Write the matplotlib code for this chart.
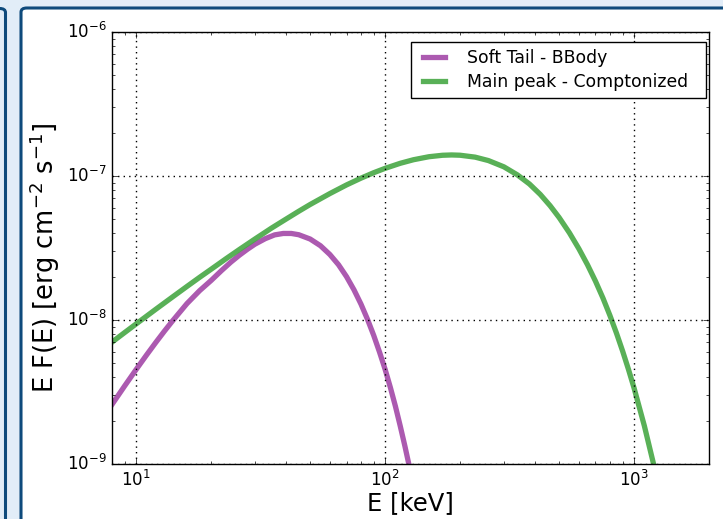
import matplotlib
matplotlib.use('Agg')
import matplotlib.pyplot as plt
from matplotlib.patches import FancyBboxPatch
import numpy as np

plt.style.use('classic')
plt.rcParams['font.family'] = ['DejaVu Sans']
plt.rcParams['mathtext.fontset'] = 'dejavusans'

# energies [keV] and E F(E)
E_bb = [8, 9, 10, 11, 12, 13, 14, 16, 18, 20, 22, 24, 26, 28, 30, 33, 36, 39, 42, 45, 50, 55, 60, 65,
        70, 75, 80, 85, 90, 95, 100, 105, 110, 115, 120, 125, 130]
F_bb = [2.59e-9, 3.49e-9, 4.53e-9, 5.70e-9, 6.99e-9, 8.38e-9, 9.85e-9, 1.30e-8, 1.60e-8, 1.88e-8,
        2.20e-8, 2.52e-8, 2.82e-8, 3.10e-8, 3.36e-8, 3.67e-8, 3.90e-8, 3.99e-8, 3.99e-8, 3.91e-8,
        3.65e-8, 3.28e-8, 2.85e-8, 2.42e-8, 2.00e-8, 1.62e-8, 1.29e-8, 1.01e-8, 7.82e-9, 5.98e-9,
        4.55e-9, 3.40e-9, 2.52e-9, 1.84e-9, 1.34e-9, 9.7e-10, 7.0e-10]

E_comp = [8, 9, 10, 11, 12, 14, 16, 18, 20, 23, 26, 30, 35, 40, 45, 50, 60, 70, 80, 90, 100, 115, 130,
          150, 170, 185, 200, 230, 260, 300, 340, 380, 420, 460, 500, 550, 600, 650, 700, 750, 800,
          850, 900, 950, 1000, 1100, 1200, 1300]
F_comp = [7.02e-9, 8.19e-9, 9.39e-9, 1.062e-8, 1.188e-8, 1.445e-8, 1.71e-8, 1.98e-8, 2.25e-8,
          2.67e-8, 3.09e-8, 3.65e-8, 4.35e-8, 5.02e-8, 5.69e-8, 6.34e-8, 7.55e-8, 8.67e-8, 9.66e-8,
          1.054e-7, 1.130e-7, 1.225e-7, 1.297e-7, 1.361e-7, 1.393e-7, 1.40e-7, 1.394e-7, 1.352e-7,
          1.280e-7, 1.158e-7, 1.018e-7, 8.8e-8, 7.45e-8, 6.22e-8, 5.15e-8, 4.03e-8, 3.13e-8,
          2.42e-8, 1.86e-8, 1.42e-8, 1.075e-8, 8.1e-9, 6.07e-9, 4.53e-9, 3.37e-9, 1.84e-9,
          9.86e-10, 5.25e-10]

labels = ['Soft Tail - BBody', 'Main peak - Comptonized']

W, H = 723, 519
fig = plt.figure(figsize=(W / 100, H / 100), dpi=100, facecolor='#e2edf8')

def fx(px):
    return px / W

def fy(py):
    return 1 - py / H

navy = '#0e4a7c'
# slide frame (previous panel edge + current panel), kept behind the axes
fig.patches.append(FancyBboxPatch((fx(-300), fy(560)), fx(305.5), fy(8.5) - fy(560),
                                  boxstyle='round,pad=0,rounding_size=0.008', transform=fig.transFigure,
                                  facecolor='#e2edf8', edgecolor=navy, linewidth=2.2, zorder=-10))
fig.patches.append(FancyBboxPatch((fx(21), fy(560)), fx(800), fy(8) - fy(560),
                                  boxstyle='round,pad=0,rounding_size=0.008', transform=fig.transFigure,
                                  facecolor='white', edgecolor=navy, linewidth=2.2, zorder=-10))

ax = fig.add_axes([fx(112), fy(464), fx(709) - fx(112), fy(32) - fy(464)])
ax.plot(E_bb, F_bb, color='#a348a8', lw=3.8, alpha=0.9, label=labels[0])
ax.plot(E_comp, F_comp, color='#47a845', lw=3.8, alpha=0.9, label=labels[1])

ax.set_xscale('log')
ax.set_yscale('log')
ax.set_xlim(8, 2000)
ax.set_ylim(1e-9, 1e-6)
ax.grid(True, which='major', color='k', linestyle=':', linewidth=1.0)
ax.tick_params(labelsize=12)
ax.set_xlabel('E [keV]', fontsize=17.5, labelpad=1)
ax.set_ylabel(r'E F(E) [erg cm$^{-2}$ s$^{-1}$]', fontsize=18.5)
ax.yaxis.set_label_coords((62 - 112) / 597, (464 - 258) / 432)

# legend box spans about x 411..706, top at y 42 (px)
lx0 = (411 - 112) / 597
lx1 = (706 - 112) / 597
ly1 = (464 - 42) / 432
ax.legend(loc='upper right', bbox_to_anchor=(lx0, ly1 - 0.2, lx1 - lx0, 0.2), mode='expand',
          borderaxespad=0, fontsize=12.4, frameon=True, fancybox=False,
          handlelength=1.85, handletextpad=1.0, borderpad=0.42, labelspacing=0.35)

plt.savefig('out.png', dpi=100, facecolor=fig.get_facecolor())
